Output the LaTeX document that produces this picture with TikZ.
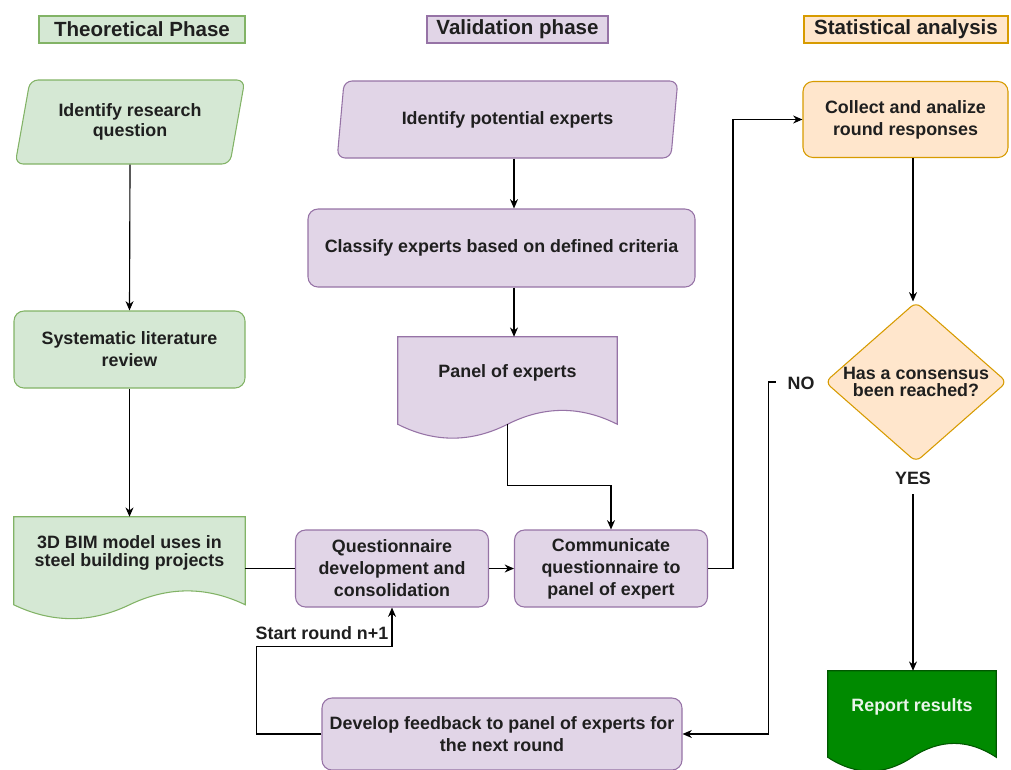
\documentclass[tikz,border=0pt]{standalone}
\usepackage{fontspec}
\setmainfont{Liberation Sans}
\usetikzlibrary{shapes.geometric,arrows.meta,backgrounds,calc}
\definecolor{gfill}{HTML}{D5E8D4}
\definecolor{gdraw}{HTML}{82B366}
\definecolor{pfill}{HTML}{E1D5E7}
\definecolor{pdraw}{HTML}{9673A6}
\definecolor{ofill}{HTML}{FFE6CC}
\definecolor{odraw}{HTML}{D79B00}
\definecolor{rfill}{HTML}{008A00}
\definecolor{rdraw}{HTML}{005700}
\definecolor{rtext}{HTML}{EAF5EA}
\def\PX{0.75pt}
\newcommand\docoutline[3]{%
  \draw[#3] (#1.north west) -- (#1.north east) -- (#1.south east)
    .. controls +(-#2/6,-18.5) and +(#2/6,-18.5) .. (#1.south)
    .. controls +(-#2/6,18.5) and +(#2/6,18.5) .. (#1.south west) -- cycle;}
\tikzset{
  txt/.style={font=\bfseries\fontsize{13.4}{16.5}\selectfont, text=black!88, align=center},
  gcol/.style={draw=gdraw, fill=gfill, line width=0.8pt},
  pcol/.style={draw=pdraw, fill=pfill, line width=0.8pt},
  ocol/.style={draw=odraw, fill=ofill, line width=0.8pt},
  rbox/.style={txt, rectangle, rounded corners=7.5pt, inner sep=2pt},
  para/.style={txt, trapezium, trapezium stretches=true, rounded corners=6pt, inner sep=0pt},
  docnode/.style={rectangle, draw=none, fill=none, inner sep=0pt},
  hdr/.style={rectangle, font=\bfseries\fontsize{15.4}{18}\selectfont, text=black!88, line width=0.8pt, inner sep=0pt},
  arr/.style={-{Stealth[length=7pt,width=6pt]}, line width=0.85pt, black},
  ln/.style={line width=0.85pt, black},
}
\begin{document}
\begin{tikzpicture}[x=0.75pt,y=-0.75pt]
\useasboundingbox (0,0) rectangle (1011,769);

% headers
\node[hdr, gcol, minimum width=206*\PX, minimum height=27*\PX] (th) at (142,29.5) {Theoretical Phase};
\node[hdr, pcol, minimum width=181*\PX, minimum height=27*\PX] (vh) at (517.5,29.5) {Validation phase};
\node[hdr, ocol, minimum width=204*\PX, minimum height=27*\PX] (sh) at (906,29.5) {Statistical analysis};

% theoretical column
\node[para, gcol, trapezium left angle=73.5, trapezium right angle=106.5,
      minimum width=230*\PX, minimum height=84*\PX] (irq) at (130,122) {Identify research\\[-2pt]question};
\node[rbox, gcol, minimum width=231*\PX, minimum height=77*\PX] (slr) at (129.5,349.5) {Systematic literature\\review};
\node[docnode, minimum width=231*\PX, minimum height=87.5*\PX,
      label={[txt, yshift=8*\PX, font=\bfseries\fontsize{13.4}{14}\selectfont]center:{3D BIM model uses in\\steel building projects}}] (bim) at (129.5,560.75) {};

% validation column
\coordinate (ax) at (514,0);
\node[para, pcol, trapezium left angle=75, trapezium right angle=105,
      minimum width=341*\PX, minimum height=77*\PX] (ipe) at (507.5,119.5) {Identify potential experts};
\node[rbox, pcol, minimum width=387*\PX, minimum height=78*\PX] (cec) at (501.5,248) {Classify experts based on defined criteria};
\node[docnode, minimum width=219*\PX, minimum height=87*\PX,
      label={[txt, yshift=7.5*\PX]center:{Panel of experts}}] (panel) at (507.5,380.5) {};
\node[rbox, pcol, minimum width=193*\PX, minimum height=77*\PX] (qdc) at (392,568.5) {Questionnaire\\development and\\consolidation};
\node[rbox, pcol, minimum width=193*\PX, minimum height=77*\PX] (cqp) at (611,568.5) {Communicate\\questionnaire to\\panel of expert};
\node[rbox, pcol, minimum width=360*\PX, minimum height=72*\PX] (dfb) at (502,734) {Develop feedback to panel of experts for\\the next round};

% statistical column
\coordinate (cx) at (913,0);
\node[rbox, ocol, minimum width=205*\PX, minimum height=76*\PX] (car) at (905.5,119.5) {Collect and analize\\round responses};
\node[diamond, ocol, minimum width=182*\PX, minimum height=160*\PX, inner sep=0pt, rounded corners=5pt,
      label={[txt, font=\bfseries\fontsize{13.4}{12.5}\selectfont]center:{Has a consensus\\been reached?}}] (dia) at (916,382) {};
\node[docnode, minimum width=168*\PX, minimum height=86*\PX,
      label={[txt, text=rtext, yshift=7*\PX]center:{Report results}}] (rep) at (912,714) {};

% document outlines
\begin{scope}[on background layer]
  \docoutline{bim}{231}{gcol}
  \docoutline{panel}{219}{pcol}
  \docoutline{rep}{168}{draw=rdraw, fill=rfill, line width=0.8pt}
\end{scope}

% connectors
\draw[arr] (irq.south) -- (slr.north);
\draw[arr] (slr.south) -- (bim.north);
\draw[ln] (bim.east |- qdc.west) -- (qdc.west);
\draw[arr] (qdc.east) -- (cqp.west);
\draw[arr] (ipe.south -| ax) -- (cec.north -| ax);
\draw[arr] (cec.south -| ax) -- (panel.north -| ax);
\draw[arr] (panel.south) -- ++(0,61) -| (cqp.north);
\draw[arr] (cqp.east) -- ++(25,0) |- (car.west);
\draw[arr] (car.south -| cx) -- (dia.north -| cx);
\draw[arr] (dia.south -| cx) -- (rep.north -| cx);
\draw[arr] (dia.west) -- ++(-56,0) |- (dfb.east);
\draw[arr] (dfb.west) -- ++(-65,0) |- ($(qdc.south)+(0,39)$) -- (qdc.south);

% labels
\node[txt, fill=white, inner sep=0pt, minimum width=50*\PX, minimum height=20*\PX] (no) at (801,383) {NO};
\node[txt, fill=white, inner sep=0pt, minimum width=40*\PX, minimum height=32*\PX] (yes) at (913,478) {YES};
\node[txt] (sr) at (322,633) {Start round n+1};
\end{tikzpicture}
\end{document}
